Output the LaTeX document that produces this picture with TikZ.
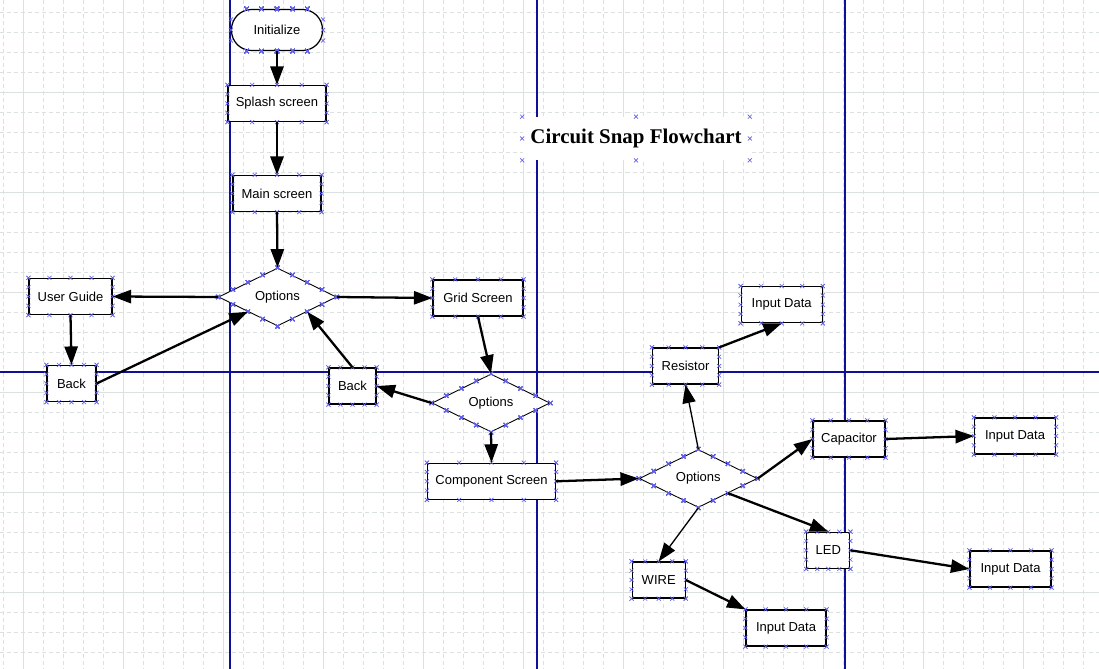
\documentclass[tikz,border=0pt]{standalone}
\usepackage{fontspec}
\setmainfont{Liberation Sans}
\newfontfamily\titlefont{Liberation Serif}
\usetikzlibrary{arrows.meta, shapes.geometric, calc}

\definecolor{gridgray}{RGB}{218,225,224}
\definecolor{guideblue}{RGB}{16,16,150}
\definecolor{markblue}{RGB}{96,96,235}

\newcommand{\nodefont}{\fontsize{7.4pt}{8.5pt}\selectfont}

% connection marks on a box
\newcommand{\boxmarks}[1]{%
  \foreach \f in {0,0.25,0.5,0.75,1}
    \foreach \a/\b in {north west/north east, south west/south east, north west/south west, north east/south east}
      \draw[xmark] ($(#1.\a)!\f!(#1.\b)$) +(-2,-2) -- +(2,2) +(-2,2) -- +(2,-2);
}
% connection marks on a decision
\newcommand{\diamarks}[1]{%
  \foreach \f in {0,0.25,0.5,0.75}
    \foreach \a/\b in {west/north, north/east, east/south, south/west}
      \draw[xmark] ($(#1.\a)!\f!(#1.\b)$) +(-2,-2) -- +(2,2) +(-2,2) -- +(2,-2);
}

\begin{document}
\begin{tikzpicture}[
	x=0.02cm, y=-0.02cm,
	box/.style={rectangle, draw, fill=white, line width=0.7pt, minimum height=0.72cm, inner sep=1pt, font=\nodefont},
	decision/.style={diamond, draw, fill=white, line width=0.5pt, aspect=2, inner sep=0pt, minimum width=2.36cm, minimum height=1.16cm, font=\nodefont},
	arrow/.style={-{Triangle[length=10.5pt,width=7.5pt]}, line width=1.3pt},
	thinarrow/.style={arrow, line width=0.75pt},
	xmark/.style={draw=markblue, line width=0.35pt},
	gridline/.style={gridgray, line width=0.5pt, dash pattern=on 2.3pt off 1.7pt},
	gridmajor/.style={gridgray, line width=0.5pt},
	guide/.style={guideblue, line width=0.6pt}
	]

	\fill[white] (0,0) rectangle (1099,669);
	\useasboundingbox (0,0) rectangle (1099,669);

	% Grid
	\foreach \gx in {3,23,...,1099} \draw[gridline] (\gx,0) -- (\gx,669);
	\foreach \gy in {12,32,...,669} \draw[gridline] (0,\gy) -- (1099,\gy);
	\foreach \gx in {23,123,...,1099} \draw[gridmajor] (\gx,0) -- (\gx,669);
	\foreach \gy in {92,192,...,669} \draw[gridmajor] (0,\gy) -- (1099,\gy);

	% Guides
	\draw[guide] (230,0) -- (230,669);
	\draw[guide] (537,0) -- (537,669);
	\draw[guide] (845,0) -- (845,669);
	\draw[guide] (0,372) -- (1099,372);

	% Title
	\node[fill=white, minimum width=4.54cm, minimum height=0.86cm, font=\titlefont\bfseries\fontsize{11.9pt}{14pt}\selectfont] (title) at (636,138.5) {Circuit Snap Flowchart};
	\foreach \a in {north west, north, north east, west, east, south west, south, south east}
		\draw[xmark] (title.\a) +(-2,-2) -- +(2,2) +(-2,2) -- +(2,-2);

	% Main path
	\node[box, rounded corners=0.4cm, minimum width=1.82cm, minimum height=0.82cm] (init) at (277,30) {Initialize};
	\node[box, minimum width=1.96cm] (splash) at (277,103.5) {Splash screen};
	\node[box, minimum width=1.76cm] (main) at (277,193.5) {Main screen};
	\node[decision] (opt1) at (277.5,297) {Options};
	\node[box, minimum width=1.66cm] (guide) at (70.5,296.5) {User Guide};
	\node[box, minimum width=0.98cm] (back1) at (71.5,383.5) {Back};
	\node[box, minimum width=1.8cm] (grid) at (478,298) {Grid Screen};
	\node[box, minimum width=0.94cm] (back2) at (352.5,386) {Back};
	\node[decision] (opt2) at (491,403) {Options};
	\node[box, minimum width=2.56cm] (comp) at (491.5,481.3) {Component Screen};

	% Components
	\node[decision] (opt3) at (698.3,478.5) {Options};
	\node[box, minimum width=1.32cm] (res) at (685.5,366) {Resistor};
	\node[box, minimum width=1.62cm] (in1) at (781.7,304.7) {Input Data};
	\node[box, minimum width=1.44cm] (cap) at (849,439) {Capacitor};
	\node[box, minimum width=1.62cm] (in2) at (1015,436) {Input Data};
	\node[box, minimum width=0.86cm] (led) at (828.3,550.3) {LED};
	\node[box, minimum width=1.62cm] (in3) at (1010.5,569) {Input Data};
	\node[box, minimum width=1.06cm] (wire) at (658.7,580) {WIRE};
	\node[box, minimum width=1.6cm] (in4) at (786,628) {Input Data};

	% Connection marks
	\foreach \n in {splash, main, guide, back1, grid, back2, comp, res, in1, cap, in2, led, in3, wire, in4}
		\boxmarks{\n}
	\foreach \n in {opt1, opt2, opt3}
		\diamarks{\n}
	\foreach \f in {0.17,0.33,0.5,0.67,0.83}
		\foreach \a/\b in {north west/north east, south west/south east}
			\draw[xmark] ($(init.\a)!\f!(init.\b)$) +(-2,-2) -- +(2,2) +(-2,2) -- +(2,-2);
	\foreach \f in {0.25,0.5,0.75}
		\foreach \a/\b in {north west/south west, north east/south east}
			\draw[xmark] ($(init.\a)!\f!(init.\b)$) +(-2,-2) -- +(2,2) +(-2,2) -- +(2,-2);

	% Arrows
	\draw[arrow] (init.south) -- (splash.north);
	\draw[arrow] (splash.south) -- (main.north);
	\draw[arrow] (main.south) -- (opt1.north);
	\draw[arrow] (opt1.west) -- (guide.east);
	\draw[arrow] (opt1.east) -- (grid.west);
	\draw[arrow] (guide.south) -- (back1.north);
	\draw[arrow] (back1.east) -- (opt1.south west);
	\draw[arrow] (back2.north) -- (opt1.south east);
	\draw[arrow] (grid.south) -- (opt2.north);
	\draw[arrow] (opt2.west) -- (back2.east);
	\draw[arrow] (opt2.south) -- (comp.north);
	\draw[arrow] (comp.east) -- (opt3.west);
	\draw[thinarrow] (opt3.north) -- (res.south);
	\draw[arrow] (res.north east) -- (in1.south);
	\draw[arrow] (opt3.east) -- (cap.west);
	\draw[arrow] (cap.east) -- (in2.west);
	\draw[arrow] (opt3.south east) -- (led.north);
	\draw[arrow] (led.east) -- (in3.west);
	\draw[thinarrow] (opt3.south) -- (wire.north);
	\draw[arrow] (wire.east) -- (in4.north west);

\end{tikzpicture}
\end{document}
